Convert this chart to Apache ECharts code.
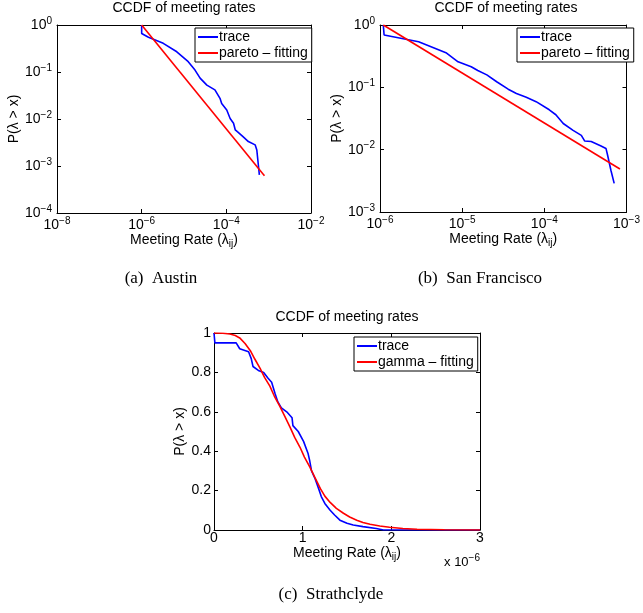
<!DOCTYPE html>
<html>
<head>
<meta charset="utf-8">
<script src="https://cdn.jsdelivr.net/npm/echarts@6/dist/echarts.min.js"></script>
<style>
html, body { margin: 0; padding: 0; background: #fff; }
#main { width: 643px; height: 613px; }
</style>
</head>
<body>
<div id="main"></div>
<script>
// values, log plots kept as [log10(rate), log10(P)]
let austinTrace = [[-6.00, 0.00], [-6.00, -0.18], [-5.84, -0.26], [-5.49, -0.39], [-5.17, -0.57], [-4.90, -0.78],
    [-4.74, -0.96], [-4.62, -1.13], [-4.46, -1.28], [-4.27, -1.38], [-4.15, -1.56], [-4.11, -1.67], [-3.99, -1.81],
    [-3.91, -1.99], [-3.83, -2.09], [-3.79, -2.23], [-3.74, -2.27], [-3.60, -2.38], [-3.48, -2.48], [-3.32, -2.55],
    [-3.28, -2.66], [-3.24, -3.01], [-3.22, -3.19]];
let austinPareto = [[-6.00, 0.00], [-3.10, -3.21]];

let sfTrace = [[-5.96, 0.00], [-5.95, -0.16], [-5.53, -0.27], [-5.19, -0.45], [-5.05, -0.59], [-4.89, -0.67],
    [-4.81, -0.73], [-4.70, -0.80], [-4.58, -0.91], [-4.44, -1.03], [-4.34, -1.10], [-4.22, -1.16], [-4.10, -1.23],
    [-3.94, -1.36], [-3.86, -1.44], [-3.77, -1.58], [-3.65, -1.69], [-3.55, -1.77], [-3.51, -1.86], [-3.43, -1.87],
    [-3.31, -1.94], [-3.25, -1.98], [-3.23, -2.09], [-3.19, -2.33], [-3.15, -2.54]];
let sfPareto = [[-5.96, 0.00], [-3.08, -2.31]];

// Strathclyde, rate in units of 1e-6
let strathTrace = [[0, 1], [0.01, 0.95], [0.25, 0.95], [0.29, 0.92], [0.39, 0.905], [0.42, 0.87], [0.44, 0.83],
    [0.50, 0.81], [0.56, 0.80], [0.61, 0.77], [0.65, 0.75], [0.69, 0.69], [0.72, 0.65], [0.76, 0.62], [0.82, 0.60],
    [0.88, 0.57], [0.89, 0.53], [0.95, 0.50], [1.01, 0.45], [1.06, 0.39], [1.08, 0.35], [1.10, 0.30], [1.14, 0.26],
    [1.18, 0.21], [1.21, 0.17], [1.25, 0.135], [1.31, 0.10], [1.36, 0.076], [1.42, 0.05], [1.50, 0.034],
    [1.57, 0.025], [1.68, 0.017], [1.83, 0.008], [1.91, 0], [3, 0]];
let strathGamma = [[0, 1], [0.10, 0.999], [0.18, 0.995], [0.24, 0.987], [0.29, 0.975], [0.35, 0.947], [0.41, 0.91],
    [0.46, 0.868], [0.52, 0.82], [0.57, 0.775], [0.63, 0.73], [0.68, 0.68], [0.74, 0.63], [0.80, 0.575],
    [0.86, 0.52], [0.91, 0.47], [0.97, 0.42], [1.02, 0.37], [1.08, 0.32], [1.14, 0.265], [1.20, 0.21],
    [1.25, 0.172], [1.31, 0.14], [1.38, 0.11], [1.46, 0.085], [1.53, 0.066], [1.61, 0.05], [1.68, 0.038],
    [1.76, 0.029], [1.87, 0.02], [1.98, 0.014], [2.13, 0.008], [2.29, 0.004], [2.6, 0.001], [3, 0]];

let plotTitle = 'CCDF of meeting rates';
let captions = ['(a)  Austin', '(b)  San Francisco', '(c)  Strathclyde'];
let legendA = ['trace', 'pareto \u2013 fitting'];
let legendC = ['trace', 'gamma \u2013 fitting'];

let font = "'Liberation Sans', Arial, sans-serif";
let fs = 14;

function fromLog(arr) {
    return arr.map(function (p) { return [Math.pow(10, p[0]), Math.pow(10, p[1])]; });
}

function powLabel(v) {
    let e = Math.round(Math.log10(v));
    return '10{sup|' + (e < 0 ? '\u2212' + (-e) : e) + '}';
}

let richLabel = {
    sup: { fontSize: 10, fontFamily: font, color: '#000', padding: [0, 0, 8, 0] }
};

function axis(grid, type, min, max, interval, position, labels, margin) {
    let a = {
        gridIndex: grid,
        type: type,
        min: min,
        max: max,
        interval: interval,
        position: position,
        splitLine: { show: false },
        axisLine: { show: true, onZero: false, lineStyle: { color: '#000', width: 1 } },
        axisTick: { show: true, inside: true, length: 4, lineStyle: { color: '#000' } },
        axisLabel: {
            show: labels,
            margin: margin,
            color: '#000',
            fontSize: fs,
            fontFamily: font,
            showMinLabel: true,
            showMaxLabel: true
        }
    };
    if (type === 'log') {
        a.logBase = 10;
        a.axisLabel.formatter = powLabel;
        a.axisLabel.rich = richLabel;
    }
    return a;
}

let nameRich = {
    sub: { fontSize: 10, fontFamily: font, color: '#000', padding: [8, 0, 0, 0] }
};
let xName = 'Meeting Rate (\u03bb{sub|ij})';
let yName = 'P(\u03bb > x)';

let xAxes = [
    axis(0, 'log', 1e-8, 1e-2, 2, 'bottom', true, 3),
    axis(1, 'log', 1e-6, 1e-3, 1, 'bottom', true, 3),
    axis(2, 'value', 0, 3, 1, 'bottom', true, 1),
    axis(0, 'log', 1e-8, 1e-2, 2, 'top', false, 3),
    axis(1, 'log', 1e-6, 1e-3, 1, 'top', false, 3),
    axis(2, 'value', 0, 3, 1, 'top', false, 1)
];
let yAxes = [
    axis(0, 'log', 1e-4, 1, 1, 'left', true, 5),
    axis(1, 'log', 1e-3, 1, 1, 'left', true, 5),
    axis(2, 'value', 0, 1, 0.2, 'left', true, 3),
    axis(0, 'log', 1e-4, 1, 1, 'right', false, 5),
    axis(1, 'log', 1e-3, 1, 1, 'right', false, 5),
    axis(2, 'value', 0, 1, 0.2, 'right', false, 3)
];
[[0, 16], [1, 16], [2, 13]].forEach(function (g) {
    xAxes[g[0]].name = xName;
    xAxes[g[0]].nameLocation = 'middle';
    xAxes[g[0]].nameGap = g[1];
    xAxes[g[0]].nameTextStyle = { color: '#000', fontSize: fs, fontFamily: font, rich: nameRich };
});
[[0, 36], [1, 31], [2, 24]].forEach(function (g) {
    yAxes[g[0]].name = yName;
    yAxes[g[0]].nameLocation = 'middle';
    yAxes[g[0]].nameGap = g[1];
    yAxes[g[0]].nameTextStyle = { color: '#000', fontSize: fs, fontFamily: font };
});
yAxes[2].axisLabel.formatter = function (v) { return String(+v.toFixed(1)); };

function legend(left, top, names) {
    return {
        orient: 'vertical',
        left: left,
        top: top,
        data: names,
        icon: 'rect',
        itemWidth: 20,
        itemHeight: 2,
        itemGap: 2,
        padding: [2, 4, 2, 3],
        borderColor: '#000',
        borderWidth: 1,
        backgroundColor: '#fff',
        selectedMode: false,
        textStyle: { color: '#000', fontSize: fs, fontFamily: font, padding: [0, 0, 0, -4] }
    };
}

function line(name, data, idx, color) {
    return {
        name: name,
        type: 'line',
        xAxisIndex: idx,
        yAxisIndex: idx,
        data: data,
        symbol: 'none',
        color: color,
        lineStyle: { color: color, width: 1.6 },
        z: color === '#ff0000' ? 3 : 2
    };
}

let titleStyle = { color: '#000', fontSize: fs, fontWeight: 'normal', fontFamily: font };
let capStyle = { color: '#000', fontSize: 17, fontWeight: 'normal', fontFamily: "'Liberation Serif', 'Times New Roman', serif" };

let option = {
    backgroundColor: '#fff',
    animation: false,
    title: [
        { text: plotTitle, left: 184, top: 1, textAlign: 'center', padding: 0, textStyle: titleStyle },
        { text: plotTitle, left: 506, top: 1, textAlign: 'center', padding: 0, textStyle: titleStyle },
        { text: plotTitle, left: 347, top: 310, textAlign: 'center', padding: 0, textStyle: titleStyle },
        { text: captions[0], left: 161, top: 270, textAlign: 'center', padding: 0, textStyle: capStyle },
        { text: captions[1], left: 480, top: 270, textAlign: 'center', padding: 0, textStyle: capStyle },
        { text: captions[2], left: 331, top: 586, textAlign: 'center', padding: 0, textStyle: capStyle },
        {
            text: 'x 10{sup|\u22126}', left: 480, top: 553, textAlign: 'right', padding: 0,
            textStyle: { color: '#000', fontSize: 13, fontWeight: 'normal', fontFamily: font, rich: richLabel }
        }
    ],
    grid: [
        { left: 57, top: 25, width: 254, height: 188 },
        { left: 380, top: 25, width: 253, height: 187 },
        { left: 214, top: 333, width: 266, height: 197 }
    ],
    legend: [
        legend(195, 28, legendA),
        legend(517, 28, legendA),
        legend(354, 337, legendC)
    ],
    xAxis: xAxes,
    yAxis: yAxes,
    series: [
        line(legendA[0], fromLog(austinTrace), 0, '#0000ff'),
        line(legendA[1], fromLog(austinPareto), 0, '#ff0000'),
        line(legendA[0], fromLog(sfTrace), 1, '#0000ff'),
        line(legendA[1], fromLog(sfPareto), 1, '#ff0000'),
        line(legendC[0], strathTrace, 2, '#0000ff'),
        line(legendC[1], strathGamma, 2, '#ff0000')
    ]
};

let myChart = echarts.init(document.getElementById('main'));
myChart.setOption(option);
</script>
</body>
</html>
